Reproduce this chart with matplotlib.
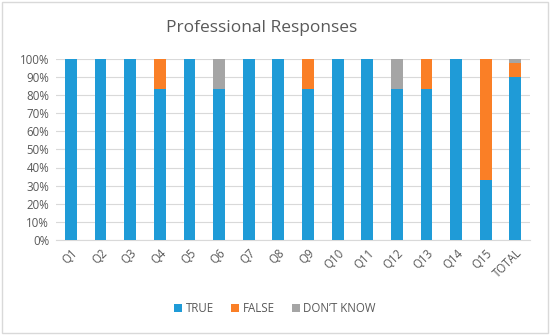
import numpy as np
import matplotlib.pyplot as plt
from matplotlib.patches import Rectangle

categories = ["Q1", "Q2", "Q3", "Q4", "Q5", "Q6", "Q7", "Q8", "Q9", "Q10",
              "Q11", "Q12", "Q13", "Q14", "Q15", "TOTAL"]
true_vals = [100, 100, 100, 83.3, 100, 83.3, 100, 100, 83.3, 100,
             100, 83.3, 83.3, 100, 33.3, 90.0]
false_vals = [0, 0, 0, 16.7, 0, 0, 0, 0, 16.7, 0,
              0, 0, 16.7, 0, 66.7, 7.8]
dk_vals = [0, 0, 0, 0, 0, 16.7, 0, 0, 0, 0,
           0, 16.7, 0, 0, 0, 2.2]

plt.rcParams['font.family'] = ['Open Sans', 'DejaVu Sans']
txt = "#595959"

fig = plt.figure(figsize=(5.5, 3.35), dpi=100)
ax = fig.add_axes([0.102, 0.284, 0.862, 0.540])

x = np.arange(len(categories))
t = np.array(true_vals)
f = np.array(false_vals)
d = np.array(dk_vals)
w = 0.4
ax.bar(x, t, w, color="#1f9bd7", label="TRUE", zorder=3)
ax.bar(x, f, w, bottom=t, color="#fa7f26", label="FALSE", zorder=3)
ax.bar(x, d, w, bottom=t + f, color="#a5a5a5", label="DON\u2019T KNOW", zorder=3)

ax.set_ylim(0, 100)
ax.set_xlim(-0.5, len(categories) - 0.5)
ax.set_yticks(np.arange(0, 101, 10))
ax.set_yticklabels([f"{v}%" for v in range(0, 101, 10)])
ax.set_xticks(x)
ax.set_xticklabels(categories, rotation=45, ha="right", rotation_mode="anchor")
ax.yaxis.grid(True, color="#d9d9d9", linewidth=0.8, zorder=0)
for s in ["top", "right", "left"]:
    ax.spines[s].set_visible(False)
ax.spines["bottom"].set_color("#d9d9d9")
ax.tick_params(axis="both", length=0, labelsize=8.3, colors=txt, pad=5)

fig.text(0.475, 0.915, "Professional Responses", fontsize=12.5, color=txt,
         ha="center", va="center")
fig.legend(loc="lower center", bbox_to_anchor=(0.5, 0.03), ncols=3, frameon=False,
           fontsize=8.3, labelcolor=txt, handlelength=0.7, handleheight=0.7,
           handletextpad=0.3, columnspacing=1.5)

fig.patches.append(Rectangle((0.003, 0.005), 0.994, 0.99, transform=fig.transFigure,
                             fill=False, edgecolor="#d9d9d9", linewidth=1))

fig.savefig("out.png", dpi=100)
